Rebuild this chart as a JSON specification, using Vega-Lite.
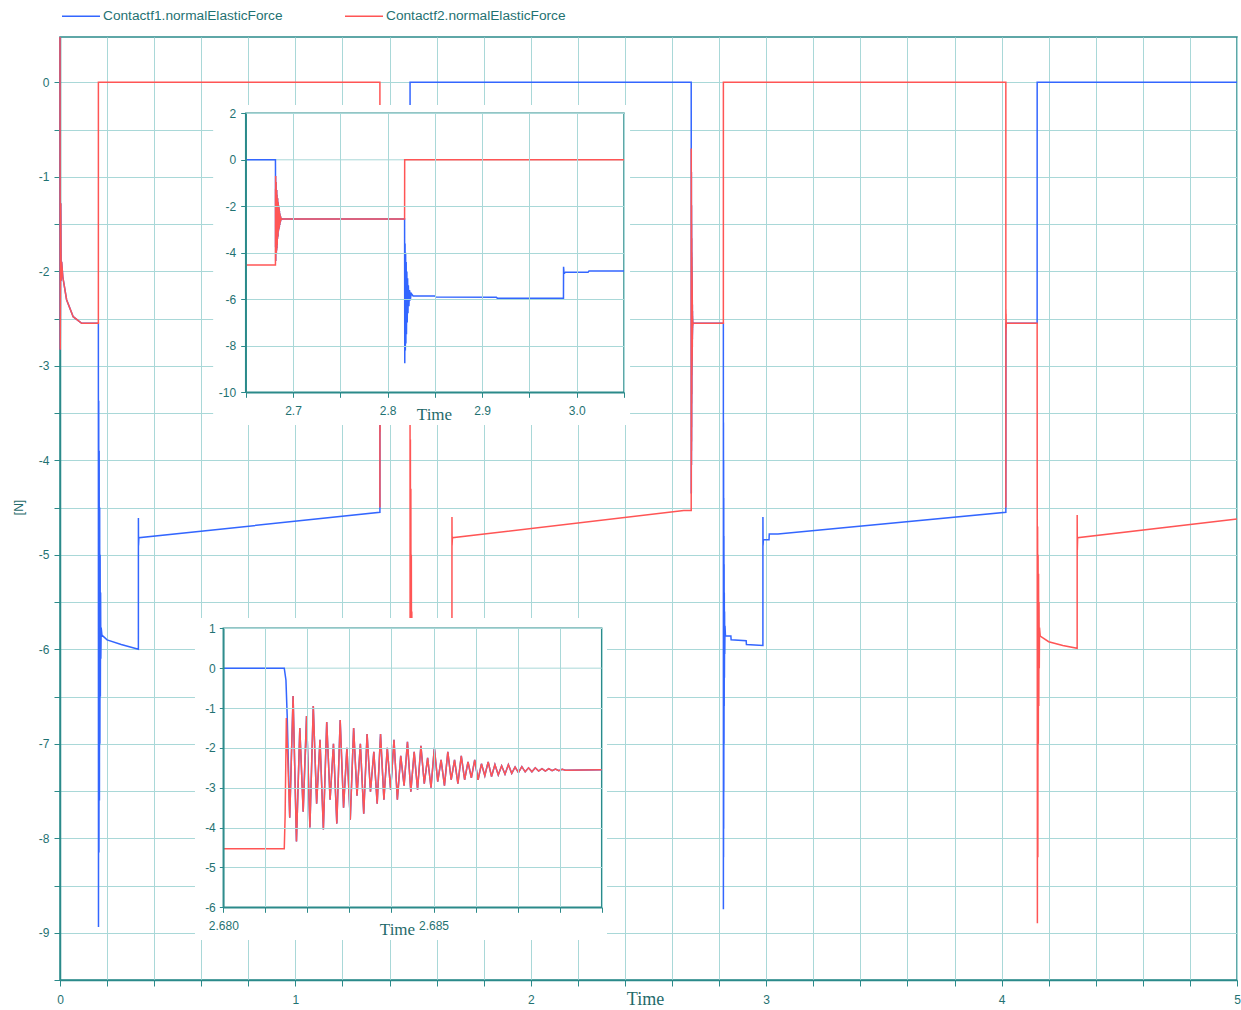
{
 "$schema": "https://vega.github.io/schema/vega-lite/v6.json",
 "width": 1177, "height": 943,
 "autosize": {"type": "none"},
 "padding": {"left": 60, "top": 37, "right": 4, "bottom": 30},
 "background": "white",
 "config": {
  "view": {"stroke": "#2b8a8a", "strokeWidth": 1.5},
  "axis": {"domainColor": "#2b8a8a", "domainWidth": 1.5, "tickColor": "#2b8a8a", "gridColor": "#a9d8d8", "gridWidth": 1, "labelColor": "#1f7272", "labelFont": "Liberation Sans", "titleColor": "#1f6a6a", "titleFontWeight": "normal", "labelFlush": false, "labelOverlap": false}
 },
 "datasets": {
  "d": [
   {"t":0,"v":0.48,"s":"Contactf1.normalElasticForce"},
   {"t":0.001,"v":-2.83,"s":"Contactf1.normalElasticForce"},
   {"t":0.003,"v":-1.28,"s":"Contactf1.normalElasticForce"},
   {"t":0.005,"v":-2.1,"s":"Contactf1.normalElasticForce"},
   {"t":0.007,"v":-1.9,"s":"Contactf1.normalElasticForce"},
   {"t":0.012,"v":-2.06,"s":"Contactf1.normalElasticForce"},
   {"t":0.028,"v":-2.3,"s":"Contactf1.normalElasticForce"},
   {"t":0.056,"v":-2.48,"s":"Contactf1.normalElasticForce"},
   {"t":0.092,"v":-2.55,"s":"Contactf1.normalElasticForce"},
   {"t":0.163,"v":-2.55,"s":"Contactf1.normalElasticForce"},
   {"t":0.1635,"v":-8.94,"s":"Contactf1.normalElasticForce"},
   {"t":0.1645,"v":-3.37,"s":"Contactf1.normalElasticForce"},
   {"t":0.1655,"v":-8.15,"s":"Contactf1.normalElasticForce"},
   {"t":0.1665,"v":-3.9,"s":"Contactf1.normalElasticForce"},
   {"t":0.1675,"v":-7.6,"s":"Contactf1.normalElasticForce"},
   {"t":0.1685,"v":-4.5,"s":"Contactf1.normalElasticForce"},
   {"t":0.1695,"v":-7.0,"s":"Contactf1.normalElasticForce"},
   {"t":0.1705,"v":-5.0,"s":"Contactf1.normalElasticForce"},
   {"t":0.1715,"v":-6.5,"s":"Contactf1.normalElasticForce"},
   {"t":0.1725,"v":-5.4,"s":"Contactf1.normalElasticForce"},
   {"t":0.1735,"v":-6.1,"s":"Contactf1.normalElasticForce"},
   {"t":0.175,"v":-5.77,"s":"Contactf1.normalElasticForce"},
   {"t":0.178,"v":-5.85,"s":"Contactf1.normalElasticForce"},
   {"t":0.2,"v":-5.9,"s":"Contactf1.normalElasticForce"},
   {"t":0.26,"v":-5.95,"s":"Contactf1.normalElasticForce"},
   {"t":0.333,"v":-6.0,"s":"Contactf1.normalElasticForce"},
   {"t":0.3331,"v":-4.61,"s":"Contactf1.normalElasticForce"},
   {"t":0.3336,"v":-4.9,"s":"Contactf1.normalElasticForce"},
   {"t":0.335,"v":-4.82,"s":"Contactf1.normalElasticForce"},
   {"t":1.359,"v":-4.55,"s":"Contactf1.normalElasticForce"},
   {"t":1.3592,"v":-2.55,"s":"Contactf1.normalElasticForce"},
   {"t":1.487,"v":-2.55,"s":"Contactf1.normalElasticForce"},
   {"t":1.4871,"v":0,"s":"Contactf1.normalElasticForce"},
   {"t":2.65,"v":0,"s":"Contactf1.normalElasticForce"},
   {"t":2.68,"v":0,"s":"Contactf1.normalElasticForce"},
   {"t":2.68145,"v":0,"s":"Contactf1.normalElasticForce"},
   {"t":2.68149,"v":-0.3,"s":"Contactf1.normalElasticForce"},
   {"t":2.68152,"v":-1.21,"s":"Contactf1.normalElasticForce"},
   {"t":2.68158,"v":-3.75,"s":"Contactf1.normalElasticForce"},
   {"t":2.68166,"v":-0.7,"s":"Contactf1.normalElasticForce"},
   {"t":2.68174,"v":-4.35,"s":"Contactf1.normalElasticForce"},
   {"t":2.68182,"v":-1.5,"s":"Contactf1.normalElasticForce"},
   {"t":2.6819,"v":-3.6,"s":"Contactf1.normalElasticForce"},
   {"t":2.68198,"v":-1.2,"s":"Contactf1.normalElasticForce"},
   {"t":2.68206,"v":-4.0,"s":"Contactf1.normalElasticForce"},
   {"t":2.68214,"v":-0.95,"s":"Contactf1.normalElasticForce"},
   {"t":2.68222,"v":-3.4,"s":"Contactf1.normalElasticForce"},
   {"t":2.6823,"v":-1.8,"s":"Contactf1.normalElasticForce"},
   {"t":2.68238,"v":-4.05,"s":"Contactf1.normalElasticForce"},
   {"t":2.68246,"v":-1.35,"s":"Contactf1.normalElasticForce"},
   {"t":2.68254,"v":-3.3,"s":"Contactf1.normalElasticForce"},
   {"t":2.68262,"v":-1.9,"s":"Contactf1.normalElasticForce"},
   {"t":2.6827,"v":-3.9,"s":"Contactf1.normalElasticForce"},
   {"t":2.68278,"v":-1.3,"s":"Contactf1.normalElasticForce"},
   {"t":2.68286,"v":-3.5,"s":"Contactf1.normalElasticForce"},
   {"t":2.68294,"v":-2.0,"s":"Contactf1.normalElasticForce"},
   {"t":2.68302,"v":-3.8,"s":"Contactf1.normalElasticForce"},
   {"t":2.6831,"v":-1.5,"s":"Contactf1.normalElasticForce"},
   {"t":2.68318,"v":-3.2,"s":"Contactf1.normalElasticForce"},
   {"t":2.68326,"v":-1.9,"s":"Contactf1.normalElasticForce"},
   {"t":2.68334,"v":-3.65,"s":"Contactf1.normalElasticForce"},
   {"t":2.68342,"v":-1.65,"s":"Contactf1.normalElasticForce"},
   {"t":2.6835,"v":-3.1,"s":"Contactf1.normalElasticForce"},
   {"t":2.68358,"v":-2.1,"s":"Contactf1.normalElasticForce"},
   {"t":2.68366,"v":-3.4,"s":"Contactf1.normalElasticForce"},
   {"t":2.68374,"v":-1.65,"s":"Contactf1.normalElasticForce"},
   {"t":2.68382,"v":-3.3,"s":"Contactf1.normalElasticForce"},
   {"t":2.6839,"v":-2.0,"s":"Contactf1.normalElasticForce"},
   {"t":2.68398,"v":-3.05,"s":"Contactf1.normalElasticForce"},
   {"t":2.68406,"v":-1.8,"s":"Contactf1.normalElasticForce"},
   {"t":2.68414,"v":-3.3,"s":"Contactf1.normalElasticForce"},
   {"t":2.68422,"v":-2.2,"s":"Contactf1.normalElasticForce"},
   {"t":2.6843,"v":-2.95,"s":"Contactf1.normalElasticForce"},
   {"t":2.68438,"v":-1.85,"s":"Contactf1.normalElasticForce"},
   {"t":2.68446,"v":-3.1,"s":"Contactf1.normalElasticForce"},
   {"t":2.68454,"v":-2.1,"s":"Contactf1.normalElasticForce"},
   {"t":2.68462,"v":-3.05,"s":"Contactf1.normalElasticForce"},
   {"t":2.6847,"v":-1.95,"s":"Contactf1.normalElasticForce"},
   {"t":2.68478,"v":-2.9,"s":"Contactf1.normalElasticForce"},
   {"t":2.68486,"v":-2.25,"s":"Contactf1.normalElasticForce"},
   {"t":2.68494,"v":-3.0,"s":"Contactf1.normalElasticForce"},
   {"t":2.68502,"v":-2.0,"s":"Contactf1.normalElasticForce"},
   {"t":2.6851,"v":-2.85,"s":"Contactf1.normalElasticForce"},
   {"t":2.68518,"v":-2.3,"s":"Contactf1.normalElasticForce"},
   {"t":2.68526,"v":-2.95,"s":"Contactf1.normalElasticForce"},
   {"t":2.68534,"v":-2.1,"s":"Contactf1.normalElasticForce"},
   {"t":2.68542,"v":-2.8,"s":"Contactf1.normalElasticForce"},
   {"t":2.6855,"v":-2.3,"s":"Contactf1.normalElasticForce"},
   {"t":2.68558,"v":-2.9,"s":"Contactf1.normalElasticForce"},
   {"t":2.68566,"v":-2.2,"s":"Contactf1.normalElasticForce"},
   {"t":2.68574,"v":-2.8,"s":"Contactf1.normalElasticForce"},
   {"t":2.68582,"v":-2.35,"s":"Contactf1.normalElasticForce"},
   {"t":2.6859,"v":-2.75,"s":"Contactf1.normalElasticForce"},
   {"t":2.68598,"v":-2.3,"s":"Contactf1.normalElasticForce"},
   {"t":2.68606,"v":-2.8,"s":"Contactf1.normalElasticForce"},
   {"t":2.68614,"v":-2.4,"s":"Contactf1.normalElasticForce"},
   {"t":2.68622,"v":-2.7,"s":"Contactf1.normalElasticForce"},
   {"t":2.6863,"v":-2.35,"s":"Contactf1.normalElasticForce"},
   {"t":2.68638,"v":-2.72,"s":"Contactf1.normalElasticForce"},
   {"t":2.68646,"v":-2.42,"s":"Contactf1.normalElasticForce"},
   {"t":2.68654,"v":-2.68,"s":"Contactf1.normalElasticForce"},
   {"t":2.68662,"v":-2.45,"s":"Contactf1.normalElasticForce"},
   {"t":2.6867,"v":-2.66,"s":"Contactf1.normalElasticForce"},
   {"t":2.68678,"v":-2.42,"s":"Contactf1.normalElasticForce"},
   {"t":2.68686,"v":-2.64,"s":"Contactf1.normalElasticForce"},
   {"t":2.68694,"v":-2.48,"s":"Contactf1.normalElasticForce"},
   {"t":2.68702,"v":-2.62,"s":"Contactf1.normalElasticForce"},
   {"t":2.6871,"v":-2.47,"s":"Contactf1.normalElasticForce"},
   {"t":2.68718,"v":-2.6,"s":"Contactf1.normalElasticForce"},
   {"t":2.68726,"v":-2.5,"s":"Contactf1.normalElasticForce"},
   {"t":2.68734,"v":-2.6,"s":"Contactf1.normalElasticForce"},
   {"t":2.68742,"v":-2.5,"s":"Contactf1.normalElasticForce"},
   {"t":2.6875,"v":-2.58,"s":"Contactf1.normalElasticForce"},
   {"t":2.68758,"v":-2.52,"s":"Contactf1.normalElasticForce"},
   {"t":2.68766,"v":-2.58,"s":"Contactf1.normalElasticForce"},
   {"t":2.68774,"v":-2.52,"s":"Contactf1.normalElasticForce"},
   {"t":2.68782,"v":-2.57,"s":"Contactf1.normalElasticForce"},
   {"t":2.6879,"v":-2.53,"s":"Contactf1.normalElasticForce"},
   {"t":2.68798,"v":-2.57,"s":"Contactf1.normalElasticForce"},
   {"t":2.68806,"v":-2.54,"s":"Contactf1.normalElasticForce"},
   {"t":2.68814,"v":-2.56,"s":"Contactf1.normalElasticForce"},
   {"t":2.689,"v":-2.55,"s":"Contactf1.normalElasticForce"},
   {"t":2.818,"v":-2.55,"s":"Contactf1.normalElasticForce"},
   {"t":2.8182,"v":-8.75,"s":"Contactf1.normalElasticForce"},
   {"t":2.8185,"v":-3.6,"s":"Contactf1.normalElasticForce"},
   {"t":2.8188,"v":-8.2,"s":"Contactf1.normalElasticForce"},
   {"t":2.8191,"v":-4.0,"s":"Contactf1.normalElasticForce"},
   {"t":2.8194,"v":-7.9,"s":"Contactf1.normalElasticForce"},
   {"t":2.8197,"v":-4.4,"s":"Contactf1.normalElasticForce"},
   {"t":2.82,"v":-7.5,"s":"Contactf1.normalElasticForce"},
   {"t":2.8204,"v":-4.8,"s":"Contactf1.normalElasticForce"},
   {"t":2.8208,"v":-7.0,"s":"Contactf1.normalElasticForce"},
   {"t":2.8212,"v":-5.1,"s":"Contactf1.normalElasticForce"},
   {"t":2.8216,"v":-6.6,"s":"Contactf1.normalElasticForce"},
   {"t":2.822,"v":-5.4,"s":"Contactf1.normalElasticForce"},
   {"t":2.8226,"v":-6.3,"s":"Contactf1.normalElasticForce"},
   {"t":2.8232,"v":-5.6,"s":"Contactf1.normalElasticForce"},
   {"t":2.824,"v":-6.05,"s":"Contactf1.normalElasticForce"},
   {"t":2.825,"v":-5.75,"s":"Contactf1.normalElasticForce"},
   {"t":2.827,"v":-5.86,"s":"Contactf1.normalElasticForce"},
   {"t":2.85,"v":-5.86,"s":"Contactf1.normalElasticForce"},
   {"t":2.851,"v":-5.9,"s":"Contactf1.normalElasticForce"},
   {"t":2.915,"v":-5.91,"s":"Contactf1.normalElasticForce"},
   {"t":2.916,"v":-5.95,"s":"Contactf1.normalElasticForce"},
   {"t":2.986,"v":-5.96,"s":"Contactf1.normalElasticForce"},
   {"t":2.9861,"v":-4.6,"s":"Contactf1.normalElasticForce"},
   {"t":2.9866,"v":-4.9,"s":"Contactf1.normalElasticForce"},
   {"t":2.988,"v":-4.84,"s":"Contactf1.normalElasticForce"},
   {"t":3.012,"v":-4.84,"s":"Contactf1.normalElasticForce"},
   {"t":3.013,"v":-4.78,"s":"Contactf1.normalElasticForce"},
   {"t":3.05,"v":-4.78,"s":"Contactf1.normalElasticForce"},
   {"t":4.018,"v":-4.55,"s":"Contactf1.normalElasticForce"},
   {"t":4.0182,"v":-2.55,"s":"Contactf1.normalElasticForce"},
   {"t":4.151,"v":-2.55,"s":"Contactf1.normalElasticForce"},
   {"t":4.1511,"v":0,"s":"Contactf1.normalElasticForce"},
   {"t":5,"v":0,"s":"Contactf1.normalElasticForce"},

   {"t":0,"v":0.48,"s":"Contactf2.normalElasticForce"},
   {"t":0.001,"v":-2.83,"s":"Contactf2.normalElasticForce"},
   {"t":0.003,"v":-1.28,"s":"Contactf2.normalElasticForce"},
   {"t":0.005,"v":-2.1,"s":"Contactf2.normalElasticForce"},
   {"t":0.007,"v":-1.9,"s":"Contactf2.normalElasticForce"},
   {"t":0.012,"v":-2.06,"s":"Contactf2.normalElasticForce"},
   {"t":0.028,"v":-2.3,"s":"Contactf2.normalElasticForce"},
   {"t":0.056,"v":-2.48,"s":"Contactf2.normalElasticForce"},
   {"t":0.092,"v":-2.55,"s":"Contactf2.normalElasticForce"},
   {"t":0.163,"v":-2.55,"s":"Contactf2.normalElasticForce"},
   {"t":0.1631,"v":0,"s":"Contactf2.normalElasticForce"},
   {"t":1.359,"v":0,"s":"Contactf2.normalElasticForce"},
   {"t":1.3591,"v":-4.5,"s":"Contactf2.normalElasticForce"},
   {"t":1.3594,"v":-1.3,"s":"Contactf2.normalElasticForce"},
   {"t":1.3597,"v":-3.7,"s":"Contactf2.normalElasticForce"},
   {"t":1.36,"v":-2.0,"s":"Contactf2.normalElasticForce"},
   {"t":1.3605,"v":-2.9,"s":"Contactf2.normalElasticForce"},
   {"t":1.361,"v":-2.55,"s":"Contactf2.normalElasticForce"},
   {"t":1.487,"v":-2.55,"s":"Contactf2.normalElasticForce"},
   {"t":1.4875,"v":-8.9,"s":"Contactf2.normalElasticForce"},
   {"t":1.4885,"v":-3.78,"s":"Contactf2.normalElasticForce"},
   {"t":1.4895,"v":-8.1,"s":"Contactf2.normalElasticForce"},
   {"t":1.4905,"v":-4.3,"s":"Contactf2.normalElasticForce"},
   {"t":1.4915,"v":-7.3,"s":"Contactf2.normalElasticForce"},
   {"t":1.4925,"v":-5.0,"s":"Contactf2.normalElasticForce"},
   {"t":1.4935,"v":-6.6,"s":"Contactf2.normalElasticForce"},
   {"t":1.4945,"v":-5.6,"s":"Contactf2.normalElasticForce"},
   {"t":1.4955,"v":-6.1,"s":"Contactf2.normalElasticForce"},
   {"t":1.497,"v":-5.87,"s":"Contactf2.normalElasticForce"},
   {"t":1.52,"v":-5.91,"s":"Contactf2.normalElasticForce"},
   {"t":1.58,"v":-5.95,"s":"Contactf2.normalElasticForce"},
   {"t":1.665,"v":-6.0,"s":"Contactf2.normalElasticForce"},
   {"t":1.6651,"v":-4.6,"s":"Contactf2.normalElasticForce"},
   {"t":1.6656,"v":-4.9,"s":"Contactf2.normalElasticForce"},
   {"t":1.667,"v":-4.82,"s":"Contactf2.normalElasticForce"},
   {"t":2.65,"v":-4.53,"s":"Contactf2.normalElasticForce"},
   {"t":2.68,"v":-4.53,"s":"Contactf2.normalElasticForce"},
   {"t":2.68145,"v":-4.53,"s":"Contactf2.normalElasticForce"},
   {"t":2.68147,"v":-3.73,"s":"Contactf2.normalElasticForce"},
   {"t":2.6815,"v":-1.25,"s":"Contactf2.normalElasticForce"},
   {"t":2.68158,"v":-3.75,"s":"Contactf2.normalElasticForce"},
   {"t":2.68166,"v":-0.7,"s":"Contactf2.normalElasticForce"},
   {"t":2.68174,"v":-4.35,"s":"Contactf2.normalElasticForce"},
   {"t":2.68182,"v":-1.5,"s":"Contactf2.normalElasticForce"},
   {"t":2.6819,"v":-3.6,"s":"Contactf2.normalElasticForce"},
   {"t":2.68198,"v":-1.2,"s":"Contactf2.normalElasticForce"},
   {"t":2.68206,"v":-4.0,"s":"Contactf2.normalElasticForce"},
   {"t":2.68214,"v":-0.95,"s":"Contactf2.normalElasticForce"},
   {"t":2.68222,"v":-3.4,"s":"Contactf2.normalElasticForce"},
   {"t":2.6823,"v":-1.8,"s":"Contactf2.normalElasticForce"},
   {"t":2.68238,"v":-4.05,"s":"Contactf2.normalElasticForce"},
   {"t":2.68246,"v":-1.35,"s":"Contactf2.normalElasticForce"},
   {"t":2.68254,"v":-3.3,"s":"Contactf2.normalElasticForce"},
   {"t":2.68262,"v":-1.9,"s":"Contactf2.normalElasticForce"},
   {"t":2.6827,"v":-3.9,"s":"Contactf2.normalElasticForce"},
   {"t":2.68278,"v":-1.3,"s":"Contactf2.normalElasticForce"},
   {"t":2.68286,"v":-3.5,"s":"Contactf2.normalElasticForce"},
   {"t":2.68294,"v":-2.0,"s":"Contactf2.normalElasticForce"},
   {"t":2.68302,"v":-3.8,"s":"Contactf2.normalElasticForce"},
   {"t":2.6831,"v":-1.5,"s":"Contactf2.normalElasticForce"},
   {"t":2.68318,"v":-3.2,"s":"Contactf2.normalElasticForce"},
   {"t":2.68326,"v":-1.9,"s":"Contactf2.normalElasticForce"},
   {"t":2.68334,"v":-3.65,"s":"Contactf2.normalElasticForce"},
   {"t":2.68342,"v":-1.65,"s":"Contactf2.normalElasticForce"},
   {"t":2.6835,"v":-3.1,"s":"Contactf2.normalElasticForce"},
   {"t":2.68358,"v":-2.1,"s":"Contactf2.normalElasticForce"},
   {"t":2.68366,"v":-3.4,"s":"Contactf2.normalElasticForce"},
   {"t":2.68374,"v":-1.65,"s":"Contactf2.normalElasticForce"},
   {"t":2.68382,"v":-3.3,"s":"Contactf2.normalElasticForce"},
   {"t":2.6839,"v":-2.0,"s":"Contactf2.normalElasticForce"},
   {"t":2.68398,"v":-3.05,"s":"Contactf2.normalElasticForce"},
   {"t":2.68406,"v":-1.8,"s":"Contactf2.normalElasticForce"},
   {"t":2.68414,"v":-3.3,"s":"Contactf2.normalElasticForce"},
   {"t":2.68422,"v":-2.2,"s":"Contactf2.normalElasticForce"},
   {"t":2.6843,"v":-2.95,"s":"Contactf2.normalElasticForce"},
   {"t":2.68438,"v":-1.85,"s":"Contactf2.normalElasticForce"},
   {"t":2.68446,"v":-3.1,"s":"Contactf2.normalElasticForce"},
   {"t":2.68454,"v":-2.1,"s":"Contactf2.normalElasticForce"},
   {"t":2.68462,"v":-3.05,"s":"Contactf2.normalElasticForce"},
   {"t":2.6847,"v":-1.95,"s":"Contactf2.normalElasticForce"},
   {"t":2.68478,"v":-2.9,"s":"Contactf2.normalElasticForce"},
   {"t":2.68486,"v":-2.25,"s":"Contactf2.normalElasticForce"},
   {"t":2.68494,"v":-3.0,"s":"Contactf2.normalElasticForce"},
   {"t":2.68502,"v":-2.0,"s":"Contactf2.normalElasticForce"},
   {"t":2.6851,"v":-2.85,"s":"Contactf2.normalElasticForce"},
   {"t":2.68518,"v":-2.3,"s":"Contactf2.normalElasticForce"},
   {"t":2.68526,"v":-2.95,"s":"Contactf2.normalElasticForce"},
   {"t":2.68534,"v":-2.1,"s":"Contactf2.normalElasticForce"},
   {"t":2.68542,"v":-2.8,"s":"Contactf2.normalElasticForce"},
   {"t":2.6855,"v":-2.3,"s":"Contactf2.normalElasticForce"},
   {"t":2.68558,"v":-2.9,"s":"Contactf2.normalElasticForce"},
   {"t":2.68566,"v":-2.2,"s":"Contactf2.normalElasticForce"},
   {"t":2.68574,"v":-2.8,"s":"Contactf2.normalElasticForce"},
   {"t":2.68582,"v":-2.35,"s":"Contactf2.normalElasticForce"},
   {"t":2.6859,"v":-2.75,"s":"Contactf2.normalElasticForce"},
   {"t":2.68598,"v":-2.3,"s":"Contactf2.normalElasticForce"},
   {"t":2.68606,"v":-2.8,"s":"Contactf2.normalElasticForce"},
   {"t":2.68614,"v":-2.4,"s":"Contactf2.normalElasticForce"},
   {"t":2.68622,"v":-2.7,"s":"Contactf2.normalElasticForce"},
   {"t":2.6863,"v":-2.35,"s":"Contactf2.normalElasticForce"},
   {"t":2.68638,"v":-2.72,"s":"Contactf2.normalElasticForce"},
   {"t":2.68646,"v":-2.42,"s":"Contactf2.normalElasticForce"},
   {"t":2.68654,"v":-2.68,"s":"Contactf2.normalElasticForce"},
   {"t":2.68662,"v":-2.45,"s":"Contactf2.normalElasticForce"},
   {"t":2.6867,"v":-2.66,"s":"Contactf2.normalElasticForce"},
   {"t":2.68678,"v":-2.42,"s":"Contactf2.normalElasticForce"},
   {"t":2.68686,"v":-2.64,"s":"Contactf2.normalElasticForce"},
   {"t":2.68694,"v":-2.48,"s":"Contactf2.normalElasticForce"},
   {"t":2.68702,"v":-2.62,"s":"Contactf2.normalElasticForce"},
   {"t":2.6871,"v":-2.47,"s":"Contactf2.normalElasticForce"},
   {"t":2.68718,"v":-2.6,"s":"Contactf2.normalElasticForce"},
   {"t":2.68726,"v":-2.5,"s":"Contactf2.normalElasticForce"},
   {"t":2.68734,"v":-2.6,"s":"Contactf2.normalElasticForce"},
   {"t":2.68742,"v":-2.5,"s":"Contactf2.normalElasticForce"},
   {"t":2.6875,"v":-2.58,"s":"Contactf2.normalElasticForce"},
   {"t":2.68758,"v":-2.52,"s":"Contactf2.normalElasticForce"},
   {"t":2.68766,"v":-2.58,"s":"Contactf2.normalElasticForce"},
   {"t":2.68774,"v":-2.52,"s":"Contactf2.normalElasticForce"},
   {"t":2.68782,"v":-2.57,"s":"Contactf2.normalElasticForce"},
   {"t":2.6879,"v":-2.53,"s":"Contactf2.normalElasticForce"},
   {"t":2.68798,"v":-2.57,"s":"Contactf2.normalElasticForce"},
   {"t":2.68806,"v":-2.54,"s":"Contactf2.normalElasticForce"},
   {"t":2.68814,"v":-2.56,"s":"Contactf2.normalElasticForce"},
   {"t":2.689,"v":-2.55,"s":"Contactf2.normalElasticForce"},
   {"t":2.818,"v":-2.55,"s":"Contactf2.normalElasticForce"},
   {"t":2.8181,"v":0,"s":"Contactf2.normalElasticForce"},
   {"t":3.05,"v":0,"s":"Contactf2.normalElasticForce"},
   {"t":4.018,"v":0,"s":"Contactf2.normalElasticForce"},
   {"t":4.0181,"v":-4.5,"s":"Contactf2.normalElasticForce"},
   {"t":4.0184,"v":-2.4,"s":"Contactf2.normalElasticForce"},
   {"t":4.0187,"v":-2.67,"s":"Contactf2.normalElasticForce"},
   {"t":4.019,"v":-2.45,"s":"Contactf2.normalElasticForce"},
   {"t":4.0195,"v":-2.6,"s":"Contactf2.normalElasticForce"},
   {"t":4.02,"v":-2.55,"s":"Contactf2.normalElasticForce"},
   {"t":4.151,"v":-2.55,"s":"Contactf2.normalElasticForce"},
   {"t":4.152,"v":-8.9,"s":"Contactf2.normalElasticForce"},
   {"t":4.153,"v":-4.7,"s":"Contactf2.normalElasticForce"},
   {"t":4.154,"v":-8.2,"s":"Contactf2.normalElasticForce"},
   {"t":4.155,"v":-5.0,"s":"Contactf2.normalElasticForce"},
   {"t":4.156,"v":-7.0,"s":"Contactf2.normalElasticForce"},
   {"t":4.157,"v":-5.2,"s":"Contactf2.normalElasticForce"},
   {"t":4.158,"v":-6.6,"s":"Contactf2.normalElasticForce"},
   {"t":4.159,"v":-5.5,"s":"Contactf2.normalElasticForce"},
   {"t":4.16,"v":-6.2,"s":"Contactf2.normalElasticForce"},
   {"t":4.161,"v":-5.77,"s":"Contactf2.normalElasticForce"},
   {"t":4.164,"v":-5.86,"s":"Contactf2.normalElasticForce"},
   {"t":4.2,"v":-5.92,"s":"Contactf2.normalElasticForce"},
   {"t":4.26,"v":-5.96,"s":"Contactf2.normalElasticForce"},
   {"t":4.321,"v":-5.99,"s":"Contactf2.normalElasticForce"},
   {"t":4.3211,"v":-4.58,"s":"Contactf2.normalElasticForce"},
   {"t":4.3216,"v":-4.95,"s":"Contactf2.normalElasticForce"},
   {"t":4.323,"v":-4.82,"s":"Contactf2.normalElasticForce"},
   {"t":5,"v":-4.62,"s":"Contactf2.normalElasticForce"}
  ]
 },
 "layer": [
  {
   "data": {"name": "d"},
   "mark": {"type": "line", "strokeWidth": 1.5},
   "encoding": {
    "x": {"field": "t", "type": "quantitative",
     "scale": {"domain": [0, 5], "nice": false, "zero": false},
     "axis": {"orient": "bottom", "values": [0,0.2,0.4,0.6,0.8,1,1.2,1.4,1.6,1.8,2,2.2,2.4,2.6,2.8,3,3.2,3.4,3.6,3.8,4,4.2,4.4,4.6,4.8,5],
      "labelExpr": "datum.value % 1 === 0 ? format(datum.value, 'd') : ''",
      "grid": true, "tickSize": 6, "labelPadding": 8, "labelFontSize": 12,
      "title": "Time", "titleFont": "Liberation Serif", "titleFontSize": 18, "titleX": 585, "titleY": 24, "titleAlign": "center", "titleBaseline": "alphabetic", "zindex": 0}},
    "y": {"field": "v", "type": "quantitative",
     "scale": {"domain": [-9.5, 0.48], "nice": false, "zero": false},
     "axis": {"orient": "left", "values": [-9.5,-9,-8.5,-8,-7.5,-7,-6.5,-6,-5.5,-5,-4.5,-4,-3.5,-3,-2.5,-2,-1.5,-1,-0.5,0],
      "labelExpr": "datum.value % 1 === 0 ? (datum.value < 0 ? '-' + format(-datum.value, 'd') : format(datum.value, 'd')) : ''",
      "grid": true, "tickSize": 6, "labelPadding": 5, "labelFontSize": 12,
      "title": "[N]", "titleFont": "Liberation Sans", "titleFontSize": 12, "titleX": -42, "titleY": 470, "titleAngle": -90, "titleAlign": "center", "titleBaseline": "middle", "zindex": 0}},
    "color": {"field": "s", "type": "nominal",
     "scale": {"domain": ["Contactf1.normalElasticForce", "Contactf2.normalElasticForce"], "range": ["#3366ff", "#ff5555"]},
     "legend": {"orient": "none", "legendX": 1, "legendY": -41, "direction": "horizontal", "title": null,
      "symbolType": "stroke", "symbolSize": 1444, "symbolStrokeWidth": 1.5, "labelFontSize": 13.7, "labelFont": "Liberation Sans",
      "labelColor": "#1f7272", "labelLimit": 400, "columnPadding": 59, "labelOffset": 2, "padding": 0}}
   }
  },
  {
   "data": {"values": [{}]},
   "mark": {"type": "rect", "fill": "white"},
   "encoding": {
    "x": {"datum": 2.6156, "type": "quantitative", "scale": {"domain": [2.65, 3.05], "range": [185.7, 564], "nice": false, "zero": false}, "axis": null},
    "x2": {"datum": 3.0564},
    "y": {"datum": -11.41, "type": "quantitative", "scale": {"domain": [-10, 2], "range": [355.3, 76.3], "nice": false, "zero": false}, "axis": null},
    "y2": {"datum": 2.357}
   }
  },
  {
   "data": {"values": [{}]},
   "mark": {"type": "rect", "fill": "white", "stroke": "#2b8a8a", "strokeWidth": 1.5},
   "encoding": {
    "x": {"datum": 2.65, "type": "quantitative", "scale": {"domain": [2.65, 3.05], "range": [185.7, 564], "nice": false, "zero": false},
     "axis": {"orient": "top", "values": [2.65,2.7,2.75,2.8,2.85,2.9,2.95,3,3.05], "grid": true, "ticks": false, "labels": false, "domain": false, "title": null, "zindex": 1}},
    "x2": {"datum": 3.05},
    "y": {"datum": -10, "type": "quantitative", "scale": {"domain": [-10, 2], "range": [355.3, 76.3], "nice": false, "zero": false},
     "axis": {"orient": "left", "offset": -185.7, "values": [-10,-8,-6,-4,-2,2], "grid": true, "ticks": false, "labels": false, "domain": false, "title": null, "zindex": 1}},
    "y2": {"datum": 2}
   }
  },
  {
   "data": {"values": [{}]},
   "mark": {"type": "rule", "color": "#a9d8d8", "strokeWidth": 1},
   "encoding": {
    "x": {"datum": 2.65, "type": "quantitative", "scale": {"domain": [2.65, 3.05], "range": [185.7, 564], "nice": false, "zero": false}, "axis": null},
    "x2": {"datum": 3.05},
    "y": {"datum": 0, "type": "quantitative", "scale": {"domain": [-10, 2], "range": [355.3, 76.3], "nice": false, "zero": false}, "axis": null}
   }
  },
  {
   "data": {"name": "d"},
   "transform": [{"filter": {"field": "t", "range": [2.65, 3.05]}}],
   "mark": {"type": "line", "strokeWidth": 1.5},
   "encoding": {
    "x": {"field": "t", "type": "quantitative",
     "scale": {"domain": [2.65, 3.05], "range": [185.7, 564], "nice": false, "zero": false},
     "axis": {"orient": "bottom", "offset": -587.7, "values": [2.65,2.7,2.75,2.8,2.85,2.9,2.95,3,3.05],
      "labelExpr": "abs(datum.value * 10 - round(datum.value * 10)) < 0.001 ? format(datum.value, '.1f') : ''",
      "grid": false, "tickSize": 5, "labelPadding": 8, "labelFontSize": 12,
      "title": "Time", "titleFont": "Liberation Serif", "titleFontSize": 17, "titleX": 374, "titleY": 27, "titleAlign": "center", "titleBaseline": "alphabetic", "zindex": 1}},
    "y": {"field": "v", "type": "quantitative",
     "scale": {"domain": [-10, 2], "range": [355.3, 76.3], "nice": false, "zero": false},
     "axis": {"orient": "left", "offset": -185.7, "values": [-10,-8,-6,-4,-2,0,2],
      "labelExpr": "(datum.value < 0 ? '-' : '') + format(abs(datum.value), 'd')",
      "grid": false, "tickSize": 5, "labelPadding": 5, "labelFontSize": 12, "title": null, "zindex": 1}},
    "color": {"field": "s", "type": "nominal"}
   }
  },
  {
   "data": {"values": [{}]},
   "mark": {"type": "rect", "fill": "white"},
   "encoding": {
    "x": {"datum": 2.679326, "type": "quantitative", "scale": {"domain": [2.68, 2.689], "range": [163.3, 541.7], "nice": false, "zero": false}, "axis": null},
    "x2": {"datum": 2.689126},
    "y": {"datum": -6.82, "type": "quantitative", "scale": {"domain": [-6, 1], "range": [870.3, 591.3], "nice": false, "zero": false}, "axis": null},
    "y2": {"datum": 1.258}
   }
  },
  {
   "data": {"values": [{}]},
   "mark": {"type": "rect", "fill": "white", "stroke": "#2b8a8a", "strokeWidth": 1.5},
   "encoding": {
    "x": {"datum": 2.68, "type": "quantitative", "scale": {"domain": [2.68, 2.689], "range": [163.3, 541.7], "nice": false, "zero": false},
     "axis": {"orient": "top", "values": [2.68,2.681,2.682,2.683,2.684,2.685,2.686,2.687,2.688,2.689], "grid": true, "ticks": false, "labels": false, "domain": false, "title": null, "zindex": 1}},
    "x2": {"datum": 2.689},
    "y": {"datum": -6, "type": "quantitative", "scale": {"domain": [-6, 1], "range": [870.3, 591.3], "nice": false, "zero": false},
     "axis": {"orient": "left", "offset": -163.3, "values": [-6,-5,-4,-3,-2,-1,1], "grid": true, "ticks": false, "labels": false, "domain": false, "title": null, "zindex": 1}},
    "y2": {"datum": 1}
   }
  },
  {
   "data": {"values": [{}]},
   "mark": {"type": "rule", "color": "#a9d8d8", "strokeWidth": 1},
   "encoding": {
    "x": {"datum": 2.68, "type": "quantitative", "scale": {"domain": [2.68, 2.689], "range": [163.3, 541.7], "nice": false, "zero": false}, "axis": null},
    "x2": {"datum": 2.689},
    "y": {"datum": 0, "type": "quantitative", "scale": {"domain": [-6, 1], "range": [870.3, 591.3], "nice": false, "zero": false}, "axis": null}
   }
  },
  {
   "data": {"name": "d"},
   "transform": [{"filter": {"field": "t", "range": [2.68, 2.689]}}],
   "mark": {"type": "line", "strokeWidth": 1.5},
   "encoding": {
    "x": {"field": "t", "type": "quantitative",
     "scale": {"domain": [2.68, 2.689], "range": [163.3, 541.7], "nice": false, "zero": false},
     "axis": {"orient": "bottom", "offset": -72.7, "values": [2.68,2.681,2.682,2.683,2.684,2.685,2.686,2.687,2.688,2.689],
      "labelExpr": "abs(datum.value * 200 - round(datum.value * 200)) < 0.001 ? format(datum.value, '.3f') : ''",
      "grid": false, "tickSize": 5, "labelPadding": 8, "labelFontSize": 12,
      "title": "Time", "titleFont": "Liberation Serif", "titleFontSize": 17, "titleX": 337, "titleY": 27, "titleAlign": "center", "titleBaseline": "alphabetic", "zindex": 1}},
    "y": {"field": "v", "type": "quantitative",
     "scale": {"domain": [-6, 1], "range": [870.3, 591.3], "nice": false, "zero": false},
     "axis": {"orient": "left", "offset": -163.3, "values": [-6,-5,-4,-3,-2,-1,0,1],
      "labelExpr": "(datum.value < 0 ? '-' : '') + format(abs(datum.value), 'd')",
      "grid": false, "tickSize": 4, "labelPadding": 4, "labelFontSize": 12, "title": null, "zindex": 1}},
    "color": {"field": "s", "type": "nominal"}
   }
  }
 ],
 "resolve": {"scale": {"x": "independent", "y": "independent", "color": "shared"}, "axis": {"x": "independent", "y": "independent"}}
}
